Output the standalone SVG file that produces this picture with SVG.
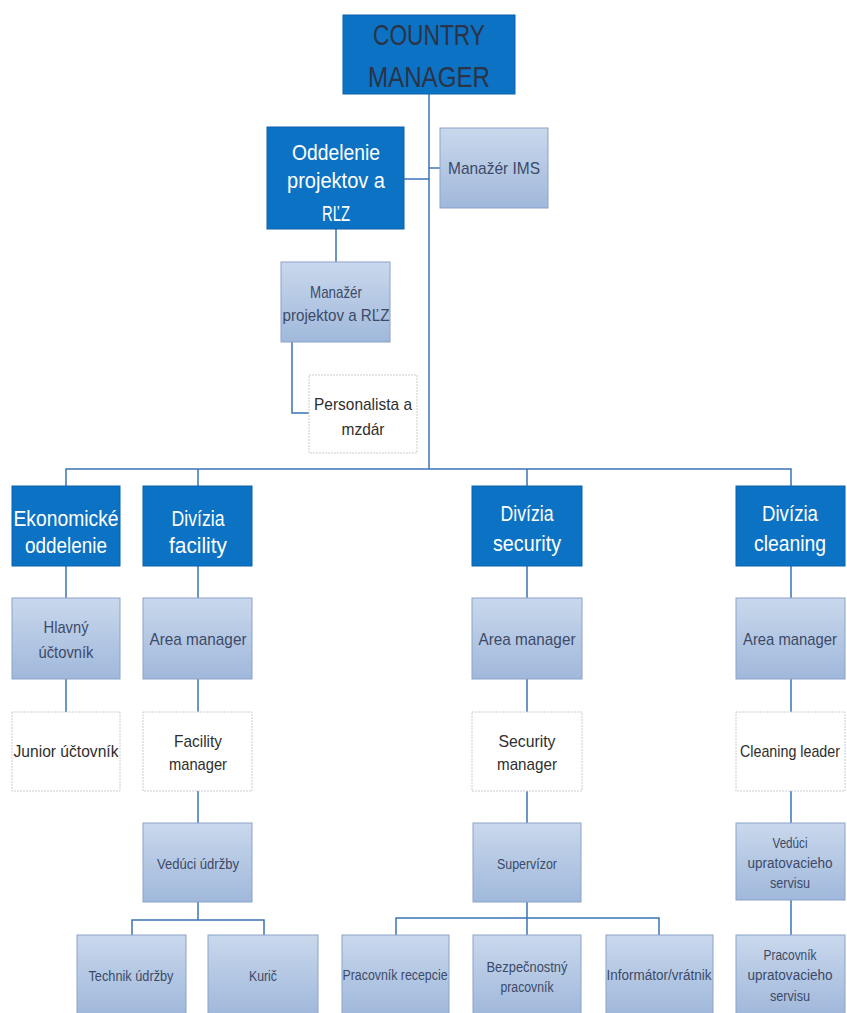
<svg xmlns="http://www.w3.org/2000/svg" width="847" height="1013" viewBox="0 0 847 1013">
<style>
  text { font-family: "Liberation Sans Narrow", "Liberation Sans", Arial, sans-serif; text-anchor: middle; }
  .dark { fill: #0b72c4; stroke: #0a62aa; stroke-width: 1; }
  .light { fill: url(#lg); stroke: #8ba3c8; stroke-width: 1; }
  .white { fill: #ffffff; stroke: #c9cdd3; stroke-width: 1; stroke-dasharray: 2 1; }
  .tw { fill: #ffffff; font-size: 22px; }
  .tc { fill: #2b3346; font-size: 30px; }
  .tl { fill: #3c4a68; font-size: 17px; }
  .tb { fill: #2e2e2e; font-size: 17px; }
  .ts { fill: #3c4a68; font-size: 14px; }
  .con { fill: none; stroke: #3b73b5; stroke-width: 1.5; }
</style>
<defs>
  <linearGradient id="lg" x1="0" y1="0" x2="0" y2="1">
    <stop offset="0" stop-color="#c9d8ec"/>
    <stop offset="1" stop-color="#a0b8db"/>
  </linearGradient>
</defs>
<rect width="847" height="1013" fill="#ffffff"/>
<g id="connectors">
  <path class="con" d="M429 94 V469"/>
  <path class="con" d="M404 179 H429"/>
  <path class="con" d="M429 168 H440"/>
  <path class="con" d="M336 229 V262"/>
  <path class="con" d="M292 342 V413 H309"/>
  <path class="con" d="M66 486 V469 H791 V486"/>
  <path class="con" d="M198 469 V486"/>
  <path class="con" d="M527 469 V486"/>
  <path class="con" d="M66 566 V598 M66 679 V712"/>
  <path class="con" d="M198 566 V598 M198 679 V712 M198 791 V823 M198 902 V920"/>
  <path class="con" d="M132 935 V920 H264 V935"/>
  <path class="con" d="M527 566 V598 M527 679 V712 M527 791 V823 M527 902 V918"/>
  <path class="con" d="M396 935 V918 H659 V935 M527 918 V935"/>
  <path class="con" d="M791 566 V598 M791 679 V712 M791 791 V823 M791 900 V935"/>
</g>
<g id="country-manager">
  <rect class="dark" x="343" y="15" width="172" height="79"/>
  <text class="tc" x="429" y="45" textLength="112" lengthAdjust="spacingAndGlyphs">COUNTRY</text>
  <text class="tc" x="429" y="87" textLength="122" lengthAdjust="spacingAndGlyphs">MANAGER</text>
</g>
<g id="oddelenie">
  <rect class="dark" x="267" y="127" width="137" height="102"/>
  <text class="tw" x="336" y="160" textLength="88" lengthAdjust="spacingAndGlyphs">Oddelenie</text>
  <text class="tw" x="336" y="188" textLength="98" lengthAdjust="spacingAndGlyphs">projektov a</text>
  <text class="tw" x="336" y="221" textLength="28" lengthAdjust="spacingAndGlyphs">RĽZ</text>
</g>
<g id="manazer-ims">
  <rect class="light" x="440" y="128" width="108" height="80"/>
  <text class="tl" x="494" y="174" textLength="92" lengthAdjust="spacingAndGlyphs">Manažér IMS</text>
</g>
<g id="manazer-projektov">
  <rect class="light" x="281" y="262" width="109" height="80"/>
  <text class="tl" x="336" y="298" textLength="52" lengthAdjust="spacingAndGlyphs">Manažér</text>
  <text class="tl" x="336" y="321" textLength="107" lengthAdjust="spacingAndGlyphs">projektov a RĽZ</text>
</g>
<g id="personalista">
  <rect class="white" x="309" y="375" width="108" height="78"/>
  <text class="tb" x="363" y="410" textLength="98" lengthAdjust="spacingAndGlyphs">Personalista a</text>
  <text class="tb" x="363" y="435" textLength="43" lengthAdjust="spacingAndGlyphs">mzdár</text>
</g>
<g id="ekonomicke">
  <rect class="dark" x="12" y="486" width="108" height="80"/>
  <text class="tw" x="66" y="526" textLength="105" lengthAdjust="spacingAndGlyphs">Ekonomické</text>
  <text class="tw" x="66" y="553" textLength="82" lengthAdjust="spacingAndGlyphs">oddelenie</text>
</g>
<g id="divizia-facility">
  <rect class="dark" x="143" y="486" width="109" height="80"/>
  <text class="tw" x="198" y="526" textLength="53" lengthAdjust="spacingAndGlyphs">Divízia</text>
  <text class="tw" x="198" y="553" textLength="58" lengthAdjust="spacingAndGlyphs">facility</text>
</g>
<g id="divizia-security">
  <rect class="dark" x="472" y="486" width="110" height="80"/>
  <text class="tw" x="527" y="521" textLength="53" lengthAdjust="spacingAndGlyphs">Divízia</text>
  <text class="tw" x="527" y="551" textLength="68" lengthAdjust="spacingAndGlyphs">security</text>
</g>
<g id="divizia-cleaning">
  <rect class="dark" x="736" y="486" width="109" height="80"/>
  <text class="tw" x="790" y="521" textLength="56" lengthAdjust="spacingAndGlyphs">Divízia</text>
  <text class="tw" x="790" y="551" textLength="72" lengthAdjust="spacingAndGlyphs">cleaning</text>
</g>
<g id="hlavny-uctovnik">
  <rect class="light" x="12" y="598" width="108" height="81"/>
  <text class="tl" x="66" y="633" textLength="45" lengthAdjust="spacingAndGlyphs">Hlavný</text>
  <text class="tl" x="66" y="658" textLength="55" lengthAdjust="spacingAndGlyphs">účtovník</text>
</g>
<g id="area-manager-facility">
  <rect class="light" x="143" y="598" width="109" height="81"/>
  <text class="tl" x="198" y="645" textLength="97" lengthAdjust="spacingAndGlyphs">Area manager</text>
</g>
<g id="area-manager-security">
  <rect class="light" x="472" y="598" width="110" height="81"/>
  <text class="tl" x="527" y="645" textLength="97" lengthAdjust="spacingAndGlyphs">Area manager</text>
</g>
<g id="area-manager-cleaning">
  <rect class="light" x="736" y="598" width="109" height="81"/>
  <text class="tl" x="790" y="645" font-size="16" textLength="94" lengthAdjust="spacingAndGlyphs">Area manager</text>
</g>
<g id="junior-uctovnik">
  <rect class="white" x="12" y="712" width="108" height="79"/>
  <text class="tb" x="66" y="757" textLength="105" lengthAdjust="spacingAndGlyphs">Junior účtovník</text>
</g>
<g id="facility-manager">
  <rect class="white" x="143" y="712" width="109" height="79"/>
  <text class="tb" x="198" y="747" textLength="48" lengthAdjust="spacingAndGlyphs">Facility</text>
  <text class="tb" x="198" y="770" textLength="58" lengthAdjust="spacingAndGlyphs">manager</text>
</g>
<g id="security-manager">
  <rect class="white" x="472" y="712" width="110" height="79"/>
  <text class="tb" x="527" y="747" textLength="57" lengthAdjust="spacingAndGlyphs">Security</text>
  <text class="tb" x="527" y="770" textLength="60" lengthAdjust="spacingAndGlyphs">manager</text>
</g>
<g id="cleaning-leader">
  <rect class="white" x="736" y="712" width="109" height="79"/>
  <text class="tb" x="790" y="757" font-size="16" textLength="100" lengthAdjust="spacingAndGlyphs">Cleaning leader</text>
</g>
<g id="veduci-udrzby">
  <rect class="light" x="143" y="823" width="109" height="79"/>
  <text class="ts" x="198" y="869" textLength="82" lengthAdjust="spacingAndGlyphs">Vedúci údržby</text>
</g>
<g id="supervizor">
  <rect class="light" x="473" y="823" width="108" height="79"/>
  <text class="ts" x="527" y="869" textLength="60" lengthAdjust="spacingAndGlyphs">Supervízor</text>
</g>
<g id="veduci-upratovacieho">
  <rect class="light" x="736" y="823" width="109" height="77"/>
  <text class="ts" x="790" y="848" textLength="35" lengthAdjust="spacingAndGlyphs">Vedúci</text>
  <text class="ts" x="790" y="868" textLength="85" lengthAdjust="spacingAndGlyphs">upratovacieho</text>
  <text class="ts" x="790" y="888" textLength="40" lengthAdjust="spacingAndGlyphs">servisu</text>
</g>
<g id="technik-udrzby">
  <rect class="light" x="77" y="935" width="109" height="80"/>
  <text class="ts" x="131" y="981" textLength="85" lengthAdjust="spacingAndGlyphs">Technik údržby</text>
</g>
<g id="kuric">
  <rect class="light" x="208" y="935" width="110" height="80"/>
  <text class="ts" x="263" y="981" textLength="28" lengthAdjust="spacingAndGlyphs">Kurič</text>
</g>
<g id="pracovnik-recepcie">
  <rect class="light" x="342" y="935" width="107" height="80"/>
  <text class="ts" x="395" y="980" textLength="105" lengthAdjust="spacingAndGlyphs">Pracovník recepcie</text>
</g>
<g id="bezpecnostny-pracovnik">
  <rect class="light" x="473" y="935" width="108" height="80"/>
  <text class="ts" x="527" y="972" textLength="81" lengthAdjust="spacingAndGlyphs">Bezpečnostný</text>
  <text class="ts" x="527" y="992" textLength="53" lengthAdjust="spacingAndGlyphs">pracovník</text>
</g>
<g id="informator-vratnik">
  <rect class="light" x="606" y="935" width="107" height="80"/>
  <text class="ts" x="659" y="980" textLength="105" lengthAdjust="spacingAndGlyphs">Informátor/vrátnik</text>
</g>
<g id="pracovnik-upratovacieho">
  <rect class="light" x="736" y="935" width="109" height="80"/>
  <text class="ts" x="790" y="960" textLength="53" lengthAdjust="spacingAndGlyphs">Pracovník</text>
  <text class="ts" x="790" y="980" textLength="85" lengthAdjust="spacingAndGlyphs">upratovacieho</text>
  <text class="ts" x="790" y="1001" textLength="40" lengthAdjust="spacingAndGlyphs">servisu</text>
</g>
</svg>
